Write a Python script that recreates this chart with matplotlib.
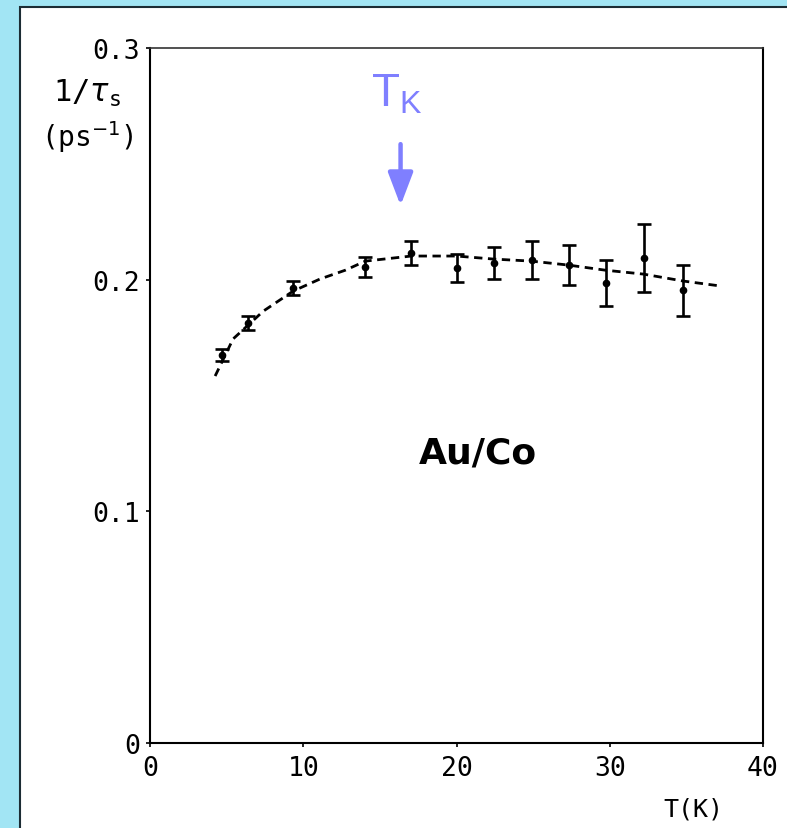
import numpy as np
import matplotlib
matplotlib.use('Agg')
import matplotlib.pyplot as plt
from matplotlib.patches import Rectangle

# measured points: temperature (K), 1/tau_s (ps^-1), error half-height
temp = [4.7, 6.4, 9.35, 14.0, 17.05, 20.0, 22.45, 24.9, 27.35, 29.75, 32.25, 34.8]
rate = [0.1675, 0.1813, 0.1964, 0.2054, 0.2115, 0.2050, 0.2072, 0.2085, 0.2063, 0.1985, 0.2093, 0.1955]
err = [0.0026, 0.0030, 0.0032, 0.0043, 0.0050, 0.0060, 0.0071, 0.0080, 0.0088, 0.0099, 0.0147, 0.0110]

# dashed guide curve
curve_t = [4.25, 5.42, 7.39, 9.35, 11.1, 12.75, 14.05, 17.05, 20.0, 22.4, 24.9, 27.3, 29.7, 32.2, 34.8, 37.3]
curve_r = [0.1584, 0.1744, 0.1864, 0.1951, 0.2003, 0.2041, 0.2080, 0.2102, 0.2102, 0.2089, 0.2080, 0.2063,
           0.2041, 0.2024, 0.1994, 0.1972]

xticks = [0, 10, 20, 30, 40]
yticks = [0, 0.1, 0.2, 0.3]
ytick_labels = ['0', '0.1', '0.2', '0.3']

tk_color = '#7f7fff'
mono = 'DejaVu Sans Mono'

fig = plt.figure(figsize=(7.87, 8.29), dpi=100, facecolor='#a2e5f4')
fig.patches.append(Rectangle((20 / 787, -0.01), 1.0, (829 - 8) / 829 + 0.01,
                             transform=fig.transFigure, facecolor='white',
                             edgecolor='#1c2c34', lw=1.5, zorder=-5))

ax = fig.add_axes([150 / 787, 85 / 829, 613 / 787, 695 / 829])
ax.set_facecolor('none')

ax.plot(curve_t, curve_r, color='black', lw=2, dashes=(3, 2))
ax.errorbar(temp, rate, yerr=err, fmt='o', color='black', ms=4.5,
            elinewidth=1.9, capsize=5, capthick=1.9)

ax.set_xlim(0, 40)
ax.set_ylim(0, 0.3)
ax.set_xticks(xticks)
ax.set_xticklabels([str(t) for t in xticks], family=mono, fontsize=19)
ax.set_yticks(yticks)
ax.set_yticklabels(ytick_labels, family=mono, fontsize=19)
ax.tick_params(axis='both', direction='out', length=3, width=1.2)
ax.tick_params(axis='x', pad=6)
ax.tick_params(axis='y', pad=4)
for s in ax.spines.values():
    s.set_linewidth(1.5)
ax.spines['top'].set_color('#333333')
ax.spines['top'].set_linewidth(1.2)

ax.text(21.4, 0.1254, 'Au/Co', fontsize=26, family='DejaVu Sans', weight='bold',
        ha='center', va='center')

# T_K marker
ax.text(16.1, 0.275, r'T$_\mathregular{K}$', fontsize=33, family='Liberation Sans',
        color=tk_color, ha='center', va='baseline')
ax.annotate('', xy=(16.35, 0.232), xytext=(16.35, 0.2585),
            arrowprops=dict(arrowstyle='-|>,head_length=1.0,head_width=0.38',
                            color=tk_color, lw=3.2, mutation_scale=20, shrinkA=0, shrinkB=0))

# axis labels, placed like the original scan
fig.text(87 / 787, 1 - 102 / 829, r'1/$\tau_\mathregular{s}$', family=mono, fontsize=22,
         ha='center', va='baseline')
fig.text(87 / 787, 1 - 137 / 829, r'(ps$^{-1}$)', family=mono, fontsize=20,
         ha='center', va='center')
fig.text(693 / 787, 1 - 810 / 829, 'T(K)', family=mono, fontsize=18,
         ha='center', va='center')

fig.savefig('out.png', dpi=100, facecolor=fig.get_facecolor())
